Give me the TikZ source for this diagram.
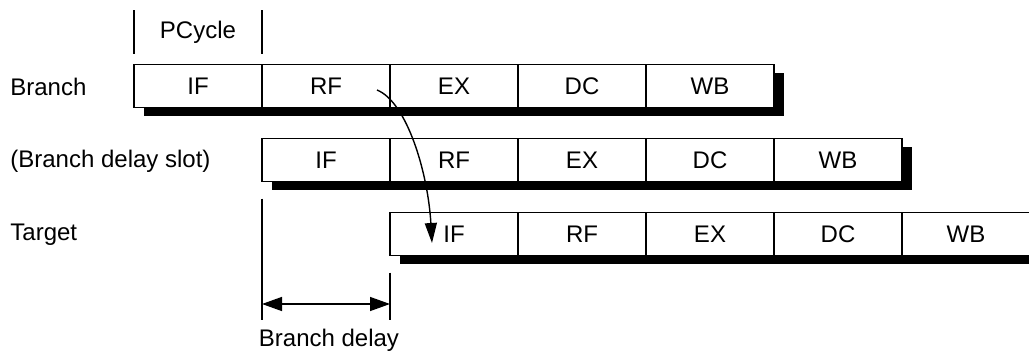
\documentclass[tikz,border=0pt]{standalone}
\usepackage{fontspec}
\setmainfont{Liberation Sans}
\usetikzlibrary{positioning,shadows,arrows.meta}

\tikzset{
	stage/.style={draw, fill=white, line width=0.7pt, minimum width=64pt, minimum height=21.5pt,
		inner sep=0pt, outer sep=0pt,
		general shadow={fill=black, shadow xshift=5pt, shadow yshift=-4pt}},
	rowlabel/.style={anchor=west, inner sep=0pt},
	tick/.style={line width=0.7pt},
	dimarrow/.style={line width=0.7pt, {Triangle[length=10pt,width=7pt]}-{Triangle[length=10pt,width=7pt]}},
	jump/.style={line width=0.7pt, -{Triangle[length=10pt,width=6pt]}}
}

\begin{document}
\begin{tikzpicture}[x=0.5pt, y=-0.5pt, font=\fontsize{12}{14}\selectfont]
	\useasboundingbox (0,0) rectangle (1029,354);
	% row labels
	\node[rowlabel] (lbranch) at (10,87) {Branch};
	\node[rowlabel] (lslot) at (10,161) {(Branch delay slot)};
	\node[rowlabel] (ltarget) at (10,235) {Target};
	% branch
	\node[stage] (b1) at (198,86) {IF};
	\node[stage, right=0pt of b1] (b2) {RF};
	\node[stage, right=0pt of b2] (b3) {EX};
	\node[stage, right=0pt of b3] (b4) {DC};
	\node[stage, right=0pt of b4] (b5) {WB};
	% delay slot
	\node[stage] (d1) at (326,160) {IF};
	\node[stage, right=0pt of d1] (d2) {RF};
	\node[stage, right=0pt of d2] (d3) {EX};
	\node[stage, right=0pt of d3] (d4) {DC};
	\node[stage, right=0pt of d4] (d5) {WB};
	% target
	\node[stage] (t1) at (454,234) {IF};
	\node[stage, right=0pt of t1] (t2) {RF};
	\node[stage, right=0pt of t2] (t3) {EX};
	\node[stage, right=0pt of t3] (t4) {DC};
	\node[stage, right=0pt of t4] (t5) {WB};
	% pcycle
	\node (pcycle) at (198,32) {PCycle};
	\draw[tick] ([yshift=5.5pt]b1.north west) -- ++(0,-44);
	\draw[tick] ([yshift=5.5pt]b2.north west) -- ++(0,-44);
	% branch delay
	\coordinate (dtop) at ([yshift=-8.5pt]d1.south west);
	\coordinate (ttop) at ([yshift=-8.5pt]t1.south west);
	\coordinate (dlow) at (0,320);
	\coordinate (alev) at (0,304);
	\draw[tick] (dtop) -- (dtop |- dlow);
	\draw[tick] (ttop) -- (ttop |- dlow);
	\draw[dimarrow] (dtop |- alev) -- (ttop |- alev);
	\node (bdelay) at (329,340) {Branch delay};
	% branch to target
	\draw[jump] ([shift={(51,4)}]b2.center) .. controls +(30,12) and +(-4,-70) .. ([shift={(-22,9)}]t1.center);
\end{tikzpicture}
\end{document}
